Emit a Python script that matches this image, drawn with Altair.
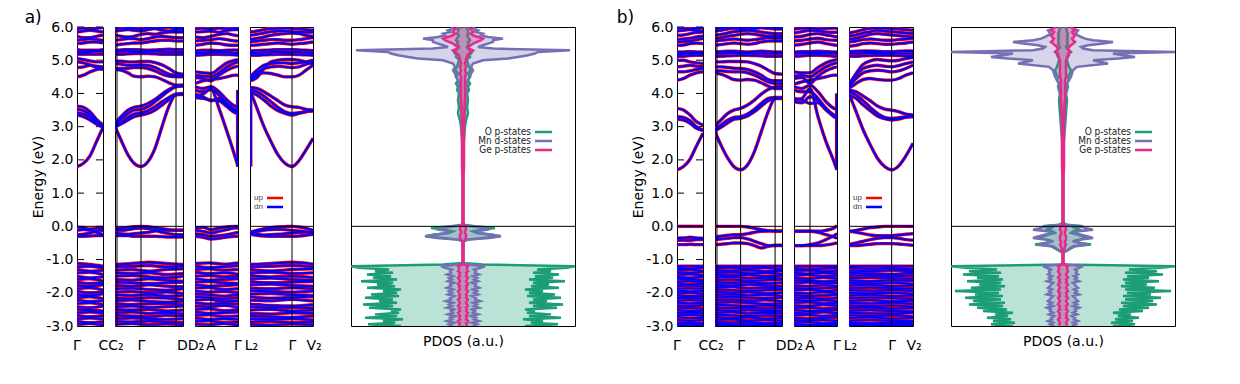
import altair as alt
import pandas as pd

# ---------------- style / layout ----------------
H = 299
GAP = 12
WA = [26, 68, 43, 63]
WB = [26, 67, 43, 64]
W_PDOS = 224
RED, BLUE = "#ff0000", "#0000ff"
O_COL, MN_COL, GE_COL = "#1b9e77", "#7570b3", "#e7298a"

# ---------------- k-path description ----------------
K_LEN = [26, 68, 43, 63]
K_HI = [[0, 6.5, 13, 19.5, 26],
        [0, 6, 13, 19, 26, 33, 40, 47, 54, 61, 68],
        [0, 8, 16, 24, 32, 40, 43],
        [0, 7, 14, 21, 28, 35, 42, 49, 56, 63]]
K_LO = [[0, 13, 26], [0, 17, 34, 51, 68], [0, 14, 29, 43], [0, 21, 42, 63]]
SYM_K = [[], [2, 26, 61], [16], [42]]
XLAB_TEXT = [["Γ", "CC₂"], ["Γ", "DD₂"], ["A", "Γ"], ["L₂", "Γ", "V₂"]]
XLAB_K = [[0, 34], [26.5, 75.5], [16, 43], [1.5, 42.5, 64]]
Y_TICKS = [-3, -2, -1, 0, 1, 2, 3, 4, 5, 6]

# band discontinuities drawn at a path end: (segment, k, E from, E to)
JUMP_A = [(2, 42.6, 1.80, 4.10), (3, 0.8, 1.80, 4.10)]
JUMP_B = [(2, 42.6, 1.70, 4.00)]

# ---------------- panel a) bands ----------------
A_S1 = [
 [1.80,1.90,2.12,2.55,2.98],[3.62,3.58,3.45,3.22,3.05],[3.52,3.48,3.36,3.15,3.02],
 [3.42,3.38,3.28,3.12,3.00],[3.35,3.30,3.20,3.08,2.98],[4.50,4.55,4.65,4.72,4.75],
 [4.78,4.80,4.85,4.78,4.72],[4.95,4.92,4.86,4.82,4.80],[5.05,5.02,4.98,4.95,4.95],
 [5.18,5.18,5.18,5.18,5.18],[5.25,5.24,5.25,5.27,5.27],[5.32,5.30,5.30,5.30,5.32],
 [5.50,5.52,5.55,5.55,5.52],[5.60,5.62,5.65,5.62,5.60],[5.72,5.68,5.68,5.72,5.75],
 [5.85,5.88,5.90,5.88,5.85],[5.95,5.97,5.92,5.96,5.98],
 [-0.03,-0.05,-0.08,-0.06,-0.05],[-0.12,-0.10,-0.12,-0.18,-0.25],
 [-0.25,-0.24,-0.20,-0.14,-0.12],[-0.30,-0.30,-0.29,-0.28,-0.28]]
A_S1_LOW = [
 [-1.12,-1.15,-1.20],[-1.22,-1.20,-1.25],[-1.30,-1.35,-1.32],[-1.40,-1.38,-1.45],
 [-1.50,-1.55,-1.52],[-1.60,-1.58,-1.65],[-1.68,-1.72,-1.70],[-1.78,-1.80,-1.76],
 [-1.88,-1.85,-1.92],[-1.95,-2.00,-1.98],[-2.05,-2.08,-2.03],[-2.15,-2.12,-2.18],
 [-2.22,-2.26,-2.24],[-2.32,-2.30,-2.36],[-2.42,-2.45,-2.40],[-2.50,-2.52,-2.55],
 [-2.60,-2.58,-2.62],[-2.68,-2.72,-2.70],[-2.78,-2.76,-2.80],[-2.86,-2.90,-2.88],
 [-2.95,-2.93,-2.97]]
A_S2 = [
 [3.00,2.60,2.15,1.90,1.80,1.95,2.35,3.00,3.62,3.97,3.97],
 [3.10,3.30,3.50,3.58,3.62,3.70,3.82,3.98,4.12,4.22,4.25],
 [3.05,3.22,3.40,3.50,3.52,3.60,3.75,3.92,4.08,4.20,4.22],
 [3.02,3.12,3.28,3.38,3.42,3.48,3.60,3.75,3.88,3.98,4.00],
 [3.00,3.08,3.20,3.30,3.35,3.40,3.50,3.65,3.82,3.96,3.98],
 [4.72,4.70,4.62,4.52,4.50,4.52,4.50,4.42,4.32,4.25,4.25],
 [4.75,4.75,4.76,4.78,4.78,4.75,4.68,4.58,4.52,4.50,4.50],
 [4.90,4.88,4.85,4.85,4.86,4.84,4.78,4.68,4.58,4.55,4.55],
 [4.98,4.97,4.95,4.95,4.96,4.96,4.93,4.86,4.75,4.62,4.58],
 [5.18,5.18,5.19,5.20,5.20,5.20,5.19,5.18,5.18,5.18,5.18],
 [5.25,5.26,5.27,5.26,5.25,5.26,5.27,5.26,5.25,5.25,5.25],
 [5.30,5.31,5.32,5.32,5.31,5.30,5.31,5.32,5.33,5.32,5.32],
 [5.45,5.48,5.50,5.52,5.52,5.55,5.58,5.60,5.60,5.58,5.58],
 [5.60,5.62,5.65,5.65,5.62,5.65,5.70,5.72,5.70,5.68,5.68],
 [5.75,5.72,5.70,5.72,5.78,5.80,5.78,5.82,5.85,5.85,5.85],
 [5.88,5.90,5.92,5.90,5.88,5.92,5.95,5.90,5.88,5.92,5.92],
 [5.97,5.95,5.98,5.96,5.95,5.98,5.96,5.98,5.99,5.97,5.97],
 [-0.08,-0.06,-0.03,-0.01,0.00,-0.01,-0.04,-0.07,-0.10,-0.12,-0.12],
 [-0.12,-0.12,-0.10,-0.07,-0.05,-0.07,-0.12,-0.18,-0.22,-0.25,-0.25],
 [-0.20,-0.22,-0.24,-0.22,-0.20,-0.18,-0.14,-0.12,-0.12,-0.12,-0.12],
 [-0.28,-0.28,-0.28,-0.30,-0.30,-0.30,-0.30,-0.31,-0.32,-0.32,-0.32]]
A_S2_LOW = [
 [-1.15,-1.12,-1.08,-1.12,-1.15],[-1.22,-1.20,-1.18,-1.22,-1.20],[-1.32,-1.30,-1.35,-1.30,-1.28],
 [-1.40,-1.42,-1.40,-1.45,-1.42],[-1.50,-1.48,-1.52,-1.55,-1.50],[-1.60,-1.62,-1.58,-1.62,-1.65],
 [-1.68,-1.70,-1.72,-1.70,-1.68],[-1.78,-1.80,-1.76,-1.80,-1.82],[-1.88,-1.86,-1.90,-1.92,-1.88],
 [-1.98,-1.96,-2.00,-1.98,-2.02],[-2.06,-2.08,-2.05,-2.10,-2.08],[-2.15,-2.18,-2.14,-2.16,-2.20],
 [-2.24,-2.22,-2.26,-2.28,-2.25],[-2.32,-2.35,-2.33,-2.32,-2.36],[-2.42,-2.40,-2.44,-2.42,-2.40],
 [-2.50,-2.52,-2.50,-2.55,-2.52],[-2.60,-2.58,-2.62,-2.60,-2.64],[-2.68,-2.70,-2.72,-2.68,-2.70],
 [-2.78,-2.76,-2.78,-2.80,-2.78],[-2.86,-2.88,-2.85,-2.88,-2.90],[-2.95,-2.93,-2.96,-2.94,-2.96]]
A_S3 = [
 [3.92,3.98,4.15,3.55,2.85,2.10,1.80],[4.20,4.15,4.20,4.05,3.80,3.62,3.60],
 [4.10,4.05,4.12,3.95,3.70,3.52,3.50],[3.88,3.85,3.80,3.78,3.60,3.42,3.40],
 [3.98,3.90,3.78,3.85,3.65,3.48,3.45],[4.30,4.38,4.42,4.45,4.50,4.55,4.55],
 [4.48,4.45,4.38,4.55,4.70,4.80,4.82],[4.55,4.52,4.50,4.62,4.80,4.92,4.95],
 [4.65,4.62,4.60,4.75,4.92,5.00,5.02],[5.15,5.16,5.18,5.18,5.17,5.16,5.15],
 [5.22,5.22,5.24,5.25,5.24,5.22,5.22],[5.28,5.30,5.30,5.29,5.30,5.31,5.30],
 [5.45,5.48,5.52,5.50,5.46,5.45,5.45],[5.58,5.60,5.62,5.65,5.62,5.58,5.58],
 [5.70,5.68,5.72,5.78,5.80,5.75,5.74],[5.85,5.86,5.88,5.84,5.90,5.92,5.92],
 [5.95,5.96,5.94,5.97,5.95,5.96,5.97],
 [-0.05,-0.03,-0.10,-0.05,-0.02,0.00,0.00],[-0.12,-0.15,-0.20,-0.15,-0.10,-0.05,-0.05],
 [-0.22,-0.25,-0.30,-0.28,-0.25,-0.20,-0.18],[-0.30,-0.33,-0.38,-0.36,-0.32,-0.30,-0.30]]
A_S3_LOW = [
 [-1.12,-1.10,-1.14,-1.10],[-1.20,-1.24,-1.22,-1.18],[-1.30,-1.28,-1.32,-1.30],
 [-1.38,-1.42,-1.40,-1.44],[-1.50,-1.48,-1.52,-1.50],[-1.58,-1.62,-1.60,-1.58],
 [-1.68,-1.66,-1.70,-1.72],[-1.76,-1.80,-1.78,-1.76],[-1.86,-1.84,-1.90,-1.88],
 [-1.95,-1.98,-1.96,-2.00],[-2.04,-2.06,-2.10,-2.06],[-2.12,-2.15,-2.18,-2.14],
 [-2.22,-2.20,-2.26,-2.24],[-2.30,-2.34,-2.32,-2.34],[-2.40,-2.42,-2.38,-2.44],
 [-2.50,-2.48,-2.54,-2.50],[-2.58,-2.62,-2.60,-2.58],[-2.68,-2.66,-2.72,-2.70],
 [-2.76,-2.80,-2.78,-2.80],[-2.86,-2.84,-2.90,-2.88],[-2.94,-2.96,-2.93,-2.97]]
A_S4 = [
 [4.10,3.55,3.00,2.55,2.15,1.90,1.80,1.98,2.30,2.65],
 [4.18,4.15,4.05,3.92,3.78,3.65,3.60,3.58,3.52,3.50],
 [4.12,4.05,3.92,3.75,3.58,3.45,3.40,3.42,3.46,3.48],
 [4.05,3.95,3.80,3.62,3.48,3.40,3.35,3.40,3.45,3.47],
 [4.40,4.55,4.62,4.60,4.55,4.50,4.50,4.55,4.70,4.85],
 [4.45,4.62,4.75,4.80,4.82,4.80,4.78,4.80,4.88,4.95],
 [4.50,4.70,4.85,4.90,4.92,4.92,4.90,4.92,4.95,5.00],
 [4.38,4.48,4.75,4.95,5.00,5.02,5.02,5.00,4.95,4.88],
 [5.15,5.15,5.16,5.17,5.18,5.18,5.18,5.17,5.16,5.15],
 [5.22,5.22,5.23,5.24,5.25,5.25,5.25,5.24,5.23,5.22],
 [5.28,5.29,5.30,5.31,5.32,5.32,5.32,5.31,5.30,5.29],
 [5.45,5.46,5.48,5.50,5.52,5.50,5.48,5.50,5.52,5.55],
 [5.55,5.58,5.60,5.62,5.62,5.60,5.60,5.62,5.65,5.68],
 [5.62,5.66,5.70,5.75,5.78,5.80,5.82,5.80,5.75,5.72],
 [5.75,5.78,5.82,5.86,5.88,5.88,5.86,5.85,5.84,5.85],
 [5.85,5.88,5.92,5.95,5.96,5.97,5.96,5.94,5.92,5.90],
 [-0.18,-0.12,-0.07,-0.04,-0.02,-0.01,0.00,-0.02,-0.06,-0.12],
 [-0.20,-0.16,-0.12,-0.10,-0.09,-0.10,-0.12,-0.14,-0.16,-0.18],
 [-0.22,-0.24,-0.26,-0.25,-0.24,-0.22,-0.20,-0.18,-0.18,-0.20],
 [-0.24,-0.27,-0.29,-0.30,-0.30,-0.30,-0.30,-0.29,-0.27,-0.24]]
A_S4_LOW = [
 [-1.15,-1.12,-1.08,-1.14],[-1.22,-1.20,-1.18,-1.22],[-1.30,-1.34,-1.30,-1.28],
 [-1.40,-1.38,-1.42,-1.40],[-1.48,-1.52,-1.50,-1.54],[-1.58,-1.56,-1.60,-1.62],
 [-1.66,-1.70,-1.68,-1.66],[-1.76,-1.74,-1.78,-1.80],[-1.86,-1.88,-1.85,-1.88],
 [-1.94,-1.96,-1.98,-1.95],[-2.04,-2.02,-2.06,-2.08],[-2.12,-2.16,-2.14,-2.12],
 [-2.22,-2.24,-2.20,-2.25],[-2.34,-2.38,-2.40,-2.36],[-2.42,-2.45,-2.44,-2.46],
 [-2.52,-2.50,-2.55,-2.52],[-2.62,-2.64,-2.60,-2.62],[-2.70,-2.72,-2.74,-2.70],
 [-2.78,-2.80,-2.78,-2.82],[-2.88,-2.86,-2.90,-2.88],[-2.95,-2.97,-2.94,-2.96]]

# ---------------- panel b) bands ----------------
B_S1 = [
 [1.70,1.80,2.02,2.42,2.80],[3.55,3.50,3.35,3.15,3.05],[3.30,3.28,3.18,3.00,2.90],
 [3.22,3.20,3.10,2.95,2.88],[4.40,4.45,4.55,4.62,4.65],[4.65,4.65,4.68,4.72,4.75],
 [4.80,4.82,4.85,4.82,4.80],[5.00,5.00,4.95,4.92,4.90],[5.12,5.12,5.14,5.15,5.15],
 [5.18,5.19,5.20,5.22,5.22],[5.25,5.25,5.26,5.25,5.25],[5.45,5.46,5.50,5.52,5.50],
 [5.55,5.56,5.58,5.62,5.65],[5.62,5.64,5.66,5.70,5.72],[5.75,5.76,5.80,5.84,5.85],
 [5.88,5.90,5.92,5.90,5.88],[5.97,5.96,5.95,5.97,5.98],
 [0.00,0.00,0.00,0.00,0.00],[-0.35,-0.35,-0.33,-0.35,-0.36],
 [-0.42,-0.42,-0.42,-0.40,-0.40],[-0.55,-0.55,-0.54,-0.55,-0.55]]
B_S1_LOW = [
 [-1.20,-1.20,-1.20],[-1.25,-1.28,-1.24],[-1.32,-1.30,-1.35],[-1.38,-1.40,-1.37],
 [-1.45,-1.44,-1.48],[-1.52,-1.55,-1.52],[-1.58,-1.60,-1.62],[-1.66,-1.65,-1.68],
 [-1.72,-1.75,-1.73],[-1.80,-1.78,-1.82],[-1.88,-1.86,-1.88],[-1.94,-1.96,-1.95],
 [-2.02,-2.00,-2.04],[-2.08,-2.10,-2.10],[-2.16,-2.15,-2.18],[-2.24,-2.22,-2.24],
 [-2.30,-2.32,-2.30],[-2.38,-2.40,-2.37],[-2.45,-2.46,-2.48],[-2.52,-2.55,-2.54],
 [-2.60,-2.60,-2.62],[-2.68,-2.66,-2.70],[-2.74,-2.76,-2.76],[-2.82,-2.84,-2.82],
 [-2.90,-2.90,-2.92],[-2.97,-2.96,-2.98]]
B_S2 = [
 [2.85,2.45,2.05,1.80,1.70,1.85,2.25,2.85,3.45,3.85,3.87],
 [3.02,3.20,3.40,3.50,3.55,3.65,3.80,3.98,4.12,4.20,4.22],
 [2.92,3.05,3.20,3.28,3.30,3.38,3.52,3.70,3.85,3.88,3.88],
 [2.88,2.98,3.12,3.22,3.25,3.32,3.45,3.62,3.78,3.85,3.85],
 [4.62,4.58,4.50,4.42,4.40,4.42,4.40,4.32,4.22,4.15,4.15],
 [4.68,4.68,4.66,4.65,4.65,4.62,4.55,4.45,4.35,4.30,4.30],
 [4.80,4.80,4.78,4.76,4.75,4.72,4.65,4.55,4.42,4.38,4.38],
 [4.95,4.95,4.96,4.96,4.96,4.95,4.90,4.82,4.70,4.60,4.58],
 [5.12,5.12,5.13,5.14,5.15,5.15,5.14,5.13,5.12,5.12,5.12],
 [5.20,5.20,5.21,5.22,5.22,5.22,5.21,5.20,5.20,5.20,5.20],
 [5.25,5.26,5.27,5.27,5.26,5.25,5.26,5.27,5.26,5.25,5.25],
 [5.45,5.47,5.50,5.52,5.50,5.48,5.50,5.55,5.58,5.58,5.58],
 [5.58,5.60,5.62,5.64,5.62,5.60,5.62,5.65,5.68,5.66,5.66],
 [5.65,5.68,5.72,5.75,5.78,5.80,5.78,5.75,5.72,5.72,5.72],
 [5.75,5.78,5.82,5.86,5.88,5.90,5.88,5.85,5.82,5.80,5.80],
 [5.88,5.90,5.94,5.96,5.95,5.92,5.95,5.98,5.96,5.94,5.94],
 [5.96,5.97,5.99,5.98,5.97,5.98,5.99,5.98,5.97,5.98,5.98],
 [0.00,0.00,0.00,0.00,0.00,-0.02,-0.06,-0.10,-0.13,-0.15,-0.15],
 [-0.32,-0.30,-0.27,-0.25,-0.25,-0.22,-0.18,-0.15,-0.14,-0.14,-0.14],
 [-0.40,-0.38,-0.36,-0.34,-0.34,-0.38,-0.45,-0.52,-0.58,-0.58,-0.58],
 [-0.55,-0.54,-0.52,-0.50,-0.50,-0.52,-0.58,-0.65,-0.60,-0.57,-0.57]]
B_S2_LOW = [
 [-1.20,-1.20,-1.20,-1.20,-1.20],[-1.26,-1.24,-1.28,-1.25,-1.30],[-1.32,-1.34,-1.32,-1.36,-1.34],
 [-1.40,-1.38,-1.42,-1.40,-1.44],[-1.46,-1.48,-1.46,-1.50,-1.48],[-1.54,-1.52,-1.56,-1.55,-1.58],
 [-1.62,-1.60,-1.64,-1.62,-1.60],[-1.68,-1.70,-1.68,-1.72,-1.70],[-1.76,-1.78,-1.75,-1.78,-1.80],
 [-1.84,-1.82,-1.86,-1.85,-1.88],[-1.90,-1.92,-1.94,-1.92,-1.90],[-1.98,-2.00,-1.98,-2.02,-2.00],
 [-2.06,-2.05,-2.08,-2.06,-2.10],[-2.14,-2.12,-2.15,-2.16,-2.14],[-2.22,-2.20,-2.24,-2.22,-2.26],
 [-2.30,-2.28,-2.30,-2.34,-2.32],[-2.36,-2.38,-2.40,-2.38,-2.40],[-2.44,-2.46,-2.45,-2.48,-2.46],
 [-2.52,-2.54,-2.52,-2.55,-2.54],[-2.60,-2.58,-2.62,-2.60,-2.62],[-2.66,-2.68,-2.70,-2.68,-2.70],
 [-2.74,-2.76,-2.74,-2.78,-2.76],[-2.82,-2.80,-2.84,-2.82,-2.84],[-2.88,-2.90,-2.88,-2.92,-2.90],
 [-2.94,-2.96,-2.95,-2.94,-2.97],[-2.99,-2.98,-2.99,-2.98,-2.99]]
B_S3 = [
 [3.80,3.85,4.15,3.30,2.55,1.95,1.70],[4.20,4.15,4.25,4.05,3.75,3.55,3.52],
 [4.10,4.05,4.05,3.85,3.55,3.35,3.30],[3.85,3.80,3.70,3.72,3.50,3.30,3.25],
 [3.75,3.72,3.90,3.78,3.55,3.32,3.28],[4.28,4.35,4.40,4.45,4.50,4.55,4.55],
 [4.45,4.48,4.30,4.52,4.68,4.78,4.80],[4.52,4.55,4.50,4.65,4.80,4.90,4.92],
 [4.65,4.62,4.62,4.78,4.92,5.00,5.02],[5.12,5.13,5.15,5.15,5.14,5.12,5.12],
 [5.20,5.21,5.22,5.22,5.21,5.20,5.20],[5.25,5.26,5.26,5.27,5.26,5.25,5.25],
 [5.45,5.48,5.52,5.55,5.50,5.46,5.45],[5.58,5.60,5.64,5.66,5.62,5.60,5.60],
 [5.70,5.72,5.78,5.80,5.76,5.72,5.70],[5.82,5.86,5.90,5.88,5.85,5.84,5.84],
 [5.94,5.96,5.97,5.95,5.96,5.97,5.96],
 [-0.15,-0.15,-0.15,-0.15,-0.12,-0.05,0.02],[-0.15,-0.15,-0.15,-0.18,-0.25,-0.32,-0.36],
 [-0.58,-0.58,-0.55,-0.50,-0.40,-0.28,-0.22],[-0.58,-0.58,-0.58,-0.58,-0.56,-0.52,-0.50]]
B_S3_LOW = [
 [-1.20,-1.20,-1.20,-1.20],[-1.26,-1.30,-1.27,-1.25],[-1.34,-1.32,-1.36,-1.33],
 [-1.40,-1.43,-1.40,-1.42],[-1.48,-1.46,-1.50,-1.48],[-1.55,-1.58,-1.54,-1.57],
 [-1.62,-1.64,-1.66,-1.63],[-1.70,-1.68,-1.72,-1.70],[-1.78,-1.80,-1.77,-1.80],
 [-1.85,-1.88,-1.86,-1.84],[-1.92,-1.90,-1.95,-1.92],[-2.00,-2.02,-1.98,-2.02],
 [-2.07,-2.10,-2.08,-2.06],[-2.14,-2.16,-2.18,-2.15],[-2.22,-2.24,-2.22,-2.25],
 [-2.30,-2.28,-2.32,-2.30],[-2.38,-2.40,-2.36,-2.38],[-2.45,-2.44,-2.48,-2.46],
 [-2.52,-2.55,-2.54,-2.52],[-2.60,-2.62,-2.58,-2.62],[-2.68,-2.66,-2.70,-2.68],
 [-2.75,-2.78,-2.76,-2.74],[-2.82,-2.84,-2.82,-2.85],[-2.90,-2.88,-2.92,-2.90],
 [-2.95,-2.97,-2.95,-2.96],[-2.99,-2.98,-2.99,-2.99]]
B_S4 = [
 [4.00,3.45,2.90,2.45,2.05,1.80,1.70,1.82,2.12,2.50],
 [4.10,4.05,3.92,3.78,3.62,3.53,3.50,3.45,3.38,3.35],
 [4.05,3.95,3.78,3.58,3.40,3.28,3.25,3.27,3.30,3.32],
 [3.95,3.85,3.65,3.48,3.32,3.24,3.20,3.23,3.28,3.30],
 [4.15,4.30,4.42,4.45,4.42,4.40,4.40,4.45,4.55,4.62],
 [4.20,4.45,4.62,4.68,4.70,4.68,4.65,4.68,4.75,4.85],
 [4.30,4.55,4.75,4.82,4.85,4.82,4.80,4.84,4.90,4.95],
 [4.25,4.60,4.88,4.98,5.02,5.00,4.98,5.00,5.05,5.08],
 [5.12,5.12,5.13,5.14,5.15,5.15,5.15,5.14,5.13,5.12],
 [5.20,5.20,5.21,5.22,5.22,5.22,5.22,5.21,5.20,5.20],
 [5.26,5.27,5.28,5.28,5.27,5.26,5.26,5.27,5.28,5.28],
 [5.42,5.45,5.50,5.52,5.50,5.48,5.48,5.50,5.52,5.55],
 [5.55,5.58,5.62,5.64,5.62,5.60,5.60,5.62,5.64,5.66],
 [5.62,5.66,5.72,5.78,5.80,5.78,5.76,5.74,5.72,5.70],
 [5.72,5.76,5.82,5.86,5.90,5.88,5.86,5.84,5.82,5.80],
 [5.82,5.86,5.92,5.96,5.98,5.97,5.95,5.94,5.92,5.90],
 [-0.15,-0.12,-0.08,-0.04,-0.02,0.00,0.00,0.00,0.00,0.00],
 [-0.15,-0.18,-0.22,-0.26,-0.28,-0.28,-0.28,-0.26,-0.24,-0.22],
 [-0.55,-0.50,-0.45,-0.40,-0.36,-0.34,-0.34,-0.36,-0.40,-0.42],
 [-0.58,-0.58,-0.56,-0.54,-0.52,-0.52,-0.52,-0.53,-0.55,-0.57]]
B_S4_LOW = [
 [-1.20,-1.20,-1.20,-1.20],[-1.25,-1.28,-1.26,-1.30],[-1.33,-1.35,-1.32,-1.36],
 [-1.40,-1.42,-1.44,-1.40],[-1.48,-1.47,-1.50,-1.48],[-1.56,-1.54,-1.56,-1.58],
 [-1.62,-1.65,-1.62,-1.64],[-1.70,-1.72,-1.70,-1.74],[-1.78,-1.76,-1.80,-1.78],
 [-1.86,-1.84,-1.86,-1.88],[-1.92,-1.94,-1.92,-1.95],[-2.00,-2.02,-2.00,-2.04],
 [-2.08,-2.06,-2.10,-2.08],[-2.16,-2.14,-2.16,-2.18],[-2.24,-2.22,-2.26,-2.24],
 [-2.30,-2.32,-2.30,-2.34],[-2.38,-2.40,-2.38,-2.42],[-2.46,-2.44,-2.48,-2.46],
 [-2.54,-2.52,-2.55,-2.56],[-2.60,-2.62,-2.62,-2.60],[-2.68,-2.70,-2.68,-2.72],
 [-2.76,-2.74,-2.78,-2.76],[-2.84,-2.82,-2.84,-2.86],[-2.90,-2.92,-2.90,-2.92],
 [-2.95,-2.96,-2.97,-2.95],[-2.99,-2.98,-2.99,-2.99]]

# ---------------- PDOS (energy grid + projected DOS, arbitrary units) ----------------
PD_E_VAL = [-3.00,-2.95,-2.90,-2.85,-2.80,-2.75,-2.70,-2.65,-2.60,-2.55,
            -2.50,-2.45,-2.40,-2.35,-2.30,-2.25,-2.20,-2.15,-2.10,-2.05,
            -2.00,-1.95,-1.90,-1.85,-1.80,-1.75,-1.70,-1.65,-1.60,-1.55,
            -1.50,-1.45,-1.40,-1.35,-1.30,-1.25,-1.20,-1.15]
PD_E_TOP = [-1.10,-1.00,-0.80,-0.60,-0.55,-0.50,-0.45,-0.40,-0.35,-0.30,
            -0.25,-0.20,-0.15,-0.10,-0.05,0.00,0.05,0.10,0.50,1.00,1.50]
PD_E_CON = [1.80,2.00,2.20,2.40,2.60,2.80,3.00,3.20,3.40,3.60,
            3.80,4.00,4.10,4.20,4.30,4.40,4.50,4.60,4.70,4.80,
            4.90,5.00,5.05,5.10,5.15,5.20,5.25,5.30,5.35,5.40,
            5.45,5.50,5.55,5.60,5.65,5.70,5.75,5.80,5.85,5.90,5.95,6.00]

A_O_VAL = [62,95,68,80,60,98,66,88,64,72, 62,94,70,100,66,84,70,98,64,92,
           66,80,62,96,68,86,70,102,66,90, 72,96,70,88,74,104,112,20]
A_MN_VAL = [10,14,9,16,11,13,8,15,10,12, 9,16,11,14,10,17,12,13,9,15,
            11,14,10,16,12,13,9,15,11,14, 10,16,12,13,11,18,22,4]
A_GE_VAL = [3,4,3,5,3,4,3,4,5,3, 4,3,5,4,3,4,5,3,4,3, 4,5,3,4,3,5,4,3,4,5, 3,4,3,5,4,4,5,1]
A_O_TOP = [0,0,0,0,0,0,0,4,20,37,30,14,10,18,32,12,0,0,0,0,0]
A_MN_TOP = [0,0,0,0,0,0,0,6,26,38,28,16,14,24,22,8,0,0,0,0,0]
A_GE_TOP = [0.5,0.5,0.5,0.5,0.5,0.5,1,2,3,3,3,2,2,3,3,2,1,0.5,0.5,0.5,0.5]
A_O_CON = [0.5,0.5,0.5,0.5,1,1.5,2,3,5,4, 5,4,6,5,7,5,7,5,8,6,
           5,4,5,7,6,8,9,7,5,4, 5,6,5,7,6,5,4,6,5,5, 4,3]
A_MN_CON = [0.5,0.5,0.5,0.5,0.5,0.5,1,1,1.5,2, 2,3,3,4,4,5,7,8,10,8,
            10,20,45,55,65,72,75,107,30,15, 20,25,30,30,40,25,18,20,12,15, 10,12]
A_GE_CON = [1,1,1,1,1,1,1,1,1.5,1.5, 2,2,2,2,2,2,2,3,2,3,
            2,3,3,4,4,6,8,10,6,5, 8,10,14,18,20,15,10,8,10,9, 7,6]

B_O_VAL = [50,72,48,70,52,76,55,68,50,80, 56,86,60,94,58,90,62,98,60,88,
           64,108,62,92,58,84,62,96,60,86, 64,100,62,94,66,98,112,0]
B_MN_VAL = [9,13,10,15,11,12,9,14,10,13, 12,16,10,14,11,15,13,12,10,16,
            12,14,11,15,13,12,10,16,12,14, 11,15,13,14,12,16,20,3]
B_GE_VAL = [3,4,3,4,5,3,4,3,4,5, 3,4,3,5,4,3,4,5,3,4, 3,5,4,3,4,5,3,4,3,5, 4,3,4,5,4,4,5,1]
B_O_TOP = [0,0,0,12,28,18,10,16,25,20,14,8,10,16,12,20,4,0,0,0,0]
B_MN_TOP = [0,0,0,10,25,16,12,18,30,24,18,10,16,30,22,18,2,0,0,0,0]
B_GE_TOP = [0.5,0.5,0.5,2,3,2,2,3,3,3,2,2,2,3,3,2,1,0.5,0.5,0.5,0.5]
B_O_CON = [0.5,0.5,0.5,0.5,1,1.5,2,2.5,3,3.5, 4,3,4,5,4,6,5,7,8,6,
           5,4,4,5,6,5,7,6,4,3, 4,5,4,5,4,5,4,5,4,4, 3,3]
B_MN_CON = [0.5,0.5,0.5,0.5,0.5,0.5,1,1,1.5,2, 2,3,3,4,4,6,8,9,10,14,
            45,30,55,72,60,50,112,30,20,18, 25,40,50,30,22,18,15,12,14,15, 10,8]
B_GE_CON = [1,1,1,1,1,1,1,1,1.5,1.5, 2,2,2,2,2,2,3,3,3,3,
            3,3,4,4,5,6,8,6,5,6, 8,10,12,10,9,11,12,10,9,12, 10,8]

SPECIES = ["O p-states", "Mn d-states", "Ge p-states"]
SPECIES_COL = [O_COL, MN_COL, GE_COL]

# ---------------- chart builders ----------------
YS = alt.Scale(domain=[-3, 6], nice=False, zero=False)
FONT = "DejaVu Sans"
LEG_FONT = "Liberation Sans Narrow, DejaVu Sans Condensed, Liberation Sans"


def y_enc(first, field="E"):
    if first:
        ax = alt.Axis(values=Y_TICKS,
                      labelExpr="(datum.value < 0 ? '-' : '') + format(abs(datum.value), '.1f')",
                      title="Energy (eV)", ticks=False, domain=False, grid=False,
                      labelPadding=4, titlePadding=0, labelFontSize=14, titleFontSize=14,
                      titleFontWeight="normal", labelColor="black", titleColor="black",
                      labelFont=FONT, titleFont=FONT, labelFlush=False)
        return alt.Y(f"{field}:Q", scale=YS, axis=ax)
    return alt.Y(f"{field}:Q", scale=YS, axis=None)


def seg_chart(i, hi, lo, width, jumps, first=False, legend=False, title=None, title_dx=-8):
    rows = []
    for j, b in enumerate(hi):
        rows += [{"band": f"h{j}", "k": k, "E": e} for k, e in zip(K_HI[i], b)]
    for j, b in enumerate(lo):
        rows += [{"band": f"l{j}", "k": k, "E": e} for k, e in zip(K_LO[i], b)]
    df = pd.DataFrame(rows)
    xs = alt.Scale(domain=[0, K_LEN[i]], nice=False, zero=False)
    X = alt.X("k:Q", scale=xs, axis=None)
    layers = []
    if first:
        tdf = pd.DataFrame({"E": Y_TICKS})
        layers.append(alt.Chart(tdf).mark_rule(color="black", strokeWidth=1).encode(
            y=y_enc(True), x=alt.value(0), x2=alt.value(7)))
        layers.append(alt.Chart(tdf).mark_rule(color="black", strokeWidth=1).encode(
            y=y_enc(True), x=alt.value(width - 7), x2=alt.value(width)))
    jd = [j for j in jumps if j[0] == i]
    jdf = pd.DataFrame({"k": [j[1] for j in jd], "E": [j[2] for j in jd], "E2": [j[3] for j in jd]})
    for col, sw in [(RED, 3.4), (BLUE, 2.0)]:
        layers.append(alt.Chart(df).mark_line(color=col, strokeWidth=sw, interpolate="monotone",
                                              clip=True).encode(x=X, y=y_enc(first), detail="band:N"))
        if len(jd):
            layers.append(alt.Chart(jdf).mark_rule(color=col, strokeWidth=sw, clip=True)
                          .encode(x=X, y=y_enc(first), y2="E2:Q"))
    layers.append(alt.Chart(pd.DataFrame({"E": [0]})).mark_rule(color="black", strokeWidth=1)
                  .encode(y=y_enc(first)))
    if SYM_K[i]:
        layers.append(alt.Chart(pd.DataFrame({"k": SYM_K[i]})).mark_rule(color="black", strokeWidth=1)
                      .encode(x=X))
    ldf = pd.DataFrame({"t": XLAB_TEXT[i], "k": XLAB_K[i]})
    layers.append(alt.Chart(ldf).mark_text(fontSize=14, baseline="alphabetic", color="black", font=FONT)
                  .encode(x=X, y=alt.value(H + 24), text="t:N"))
    if legend:
        for lab, col, yp in [("up", RED, 171), ("dn", BLUE, 180)]:
            d = pd.DataFrame({"t": [lab]})
            layers.append(alt.Chart(d).mark_text(align="right", baseline="middle", fontSize=8,
                                                 color="#444444", font="Liberation Sans")
                          .encode(x=alt.value(13), y=alt.value(yp), text="t:N"))
            layers.append(alt.Chart(d).mark_rule(color=col, strokeWidth=2.5)
                          .encode(x=alt.value(17), x2=alt.value(33), y=alt.value(yp)))
    ch = alt.layer(*layers).properties(width=width, height=H)
    if title:
        ch = ch.properties(title=alt.TitleParams(text=title, anchor="start", fontSize=17,
                                                 fontWeight="normal", font=FONT, color="black",
                                                 dx=title_dx, offset=-7))
    return ch


def pdos_chart(o, mn, ge):
    E = PD_E_VAL + PD_E_TOP + PD_E_CON
    xs = alt.Scale(domain=[-112, 112], nice=False, zero=False)
    xax = alt.Axis(title="PDOS (a.u.)", labels=False, ticks=False, domain=False, grid=False,
                   titleFontSize=14, titleFontWeight="normal", titlePadding=8,
                   titleColor="black", titleFont=FONT)
    Y = alt.Y("E:Q", scale=YS, axis=None)
    layers = []
    for name, vals, col in zip(SPECIES, [o, mn, ge], SPECIES_COL):
        n = len(vals)
        adf = pd.DataFrame({"E": E, "lo": [-v for v in vals], "hi": vals})
        ldf = pd.DataFrame({"E": E + E, "v": list(vals) + [-v for v in vals],
                            "side": ["r"] * n + ["l"] * n})
        layers.append(alt.Chart(adf).mark_area(orient="horizontal", fill=col, opacity=0.3,
                                               clip=True)
                      .encode(y=Y, x=alt.X("lo:Q", scale=xs, axis=xax), x2="hi:Q"))
        layers.append(alt.Chart(ldf).mark_line(color=col, strokeWidth=2.5, clip=True)
                      .encode(y=Y, x=alt.X("v:Q", scale=xs, axis=xax), detail="side:N", order="E:Q"))
    layers.append(alt.Chart(pd.DataFrame({"E": [0]})).mark_rule(color="black", strokeWidth=1)
                  .encode(y=Y))
    for name, col, yp in zip(SPECIES, SPECIES_COL, [105, 114, 123]):
        d = pd.DataFrame({"t": [name]})
        layers.append(alt.Chart(d).mark_text(align="right", baseline="middle", fontSize=10,
                                             color="#222222", font=LEG_FONT)
                      .encode(x=alt.value(180), y=alt.value(yp), text="t:N"))
        layers.append(alt.Chart(d).mark_rule(color=col, strokeWidth=2.5)
                      .encode(x=alt.value(184), x2=alt.value(201), y=alt.value(yp)))
    return alt.layer(*layers).properties(width=W_PDOS, height=H)


def spacer(w):
    return (alt.Chart(pd.DataFrame({"s": [0]})).mark_point(opacity=0)
            .encode(x=alt.value(0), y=alt.value(0))
            .properties(width=w, height=H, view=alt.ViewBackground(stroke="transparent")))


A_HI = [A_S1, A_S2, A_S3, A_S4]
A_LO = [A_S1_LOW, A_S2_LOW, A_S3_LOW, A_S4_LOW]
B_HI = [B_S1, B_S2, B_S3, B_S4]
B_LO = [B_S1_LOW, B_S2_LOW, B_S3_LOW, B_S4_LOW]

segs_a = [seg_chart(i, A_HI[i], A_LO[i], WA[i], JUMP_A, first=(i == 0), legend=(i == 3),
                    title=("a)" if i == 0 else None), title_dx=-7) for i in range(4)]
segs_b = [seg_chart(i, B_HI[i], B_LO[i], WB[i], JUMP_B, first=(i == 0), legend=(i == 3),
                    title=("b)" if i == 0 else None), title_dx=-15) for i in range(4)]

pdos_a = pdos_chart(A_O_VAL + A_O_TOP + A_O_CON, A_MN_VAL + A_MN_TOP + A_MN_CON,
                    A_GE_VAL + A_GE_TOP + A_GE_CON)
pdos_b = pdos_chart(B_O_VAL + B_O_TOP + B_O_CON, B_MN_VAL + B_MN_TOP + B_MN_CON,
                    B_GE_VAL + B_GE_TOP + B_GE_CON)

chart = alt.hconcat(*segs_a, spacer(14), pdos_a, spacer(78), *segs_b, spacer(14), pdos_b,
                    spacing=GAP, bounds="flush")
chart = chart.properties(padding={"left": 16, "top": 0, "right": 5, "bottom": 0})
chart = chart.configure(font=FONT).configure_view(stroke="black", strokeWidth=1)

chart.save("out.html", embed_options={"renderer": "svg", "actions": False})
